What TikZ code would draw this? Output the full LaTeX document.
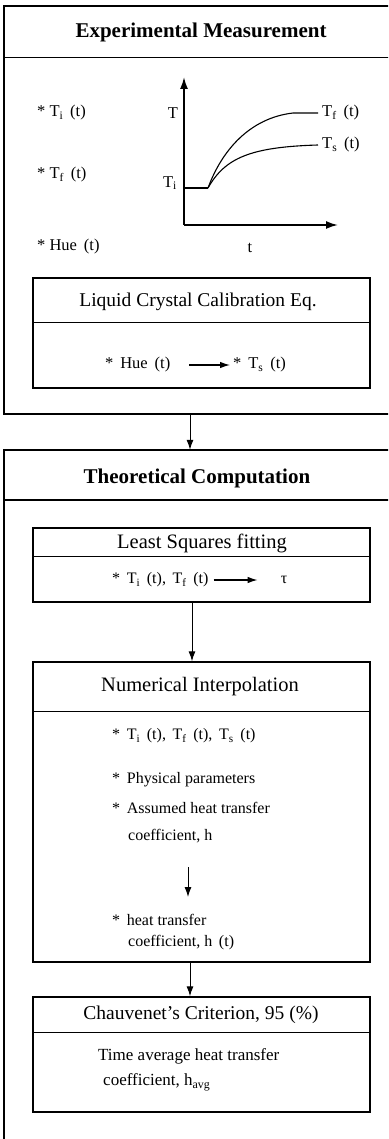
\documentclass[tikz,border=0pt]{standalone}
\usepackage{fontspec}
\setmainfont{Liberation Serif}
\usetikzlibrary{arrows.meta}
\begin{document}
\begin{tikzpicture}[x=1pt,y=-1pt,
  outerbox/.style={inner sep=0pt},
  outerline/.style={line width=1.8pt},
  innerbox/.style={draw, line width=1.4pt, inner sep=0pt},
  divline/.style={line width=1.1pt},
  flow/.style={line width=1pt, -{Latex[length=10pt,width=7pt]}},
  rowarrow/.style={line width=1.2pt, -{Latex[length=10pt,width=6.5pt]}},
  axis/.style={line width=1.8pt, -{Latex[length=12pt,width=8pt]}},
  curve/.style={line width=1.1pt},
  ttl/.style={inner sep=0pt, font=\fontsize{21}{25}\selectfont\bfseries},
  hdr/.style={inner sep=0pt, font=\fontsize{19.5}{23}\selectfont},
  hdrb/.style={inner sep=0pt, font=\fontsize{20.5}{24}\selectfont},
  glab/.style={inner sep=0pt, font=\fontsize{16.5}{19}\selectfont},
  item/.style={inner sep=0pt, anchor=west, font=\fontsize{16}{19}\selectfont},
  titem/.style={inner sep=0pt, anchor=west, font=\fontsize{17}{20}\selectfont}
]
\useasboundingbox (0,0) rectangle (388,1139);
\clip (0,0) rectangle (388,1139);

% ---------- outer box 1 (its right side lies beyond the picture) ----------
\node[outerbox, minimum width=400pt, minimum height=408pt] (outer1) at (204,210) {};
\draw[outerline] (outer1.north east) -- (outer1.north west) -- (outer1.south west) -- (outer1.south east);
\draw[divline, line width=1.4pt] ([yshift=-52pt]outer1.north west) -- ([yshift=-52pt]outer1.north east);
\node[ttl] (title1) at (201,32) {Experimental Measurement};

\node[glab, anchor=west] (gTi) at (37,113) {* T\textsubscript{i}\, (t)};
\node[glab, anchor=west] (gTf) at (37,175) {* T\textsubscript{f}\, (t)};
\node[glab, anchor=west] (gHue) at (37,247) {* Hue\, (t)};

% graph
\coordinate (O) at (184,225);
\coordinate (ytop) at (184,77);
\coordinate (xend) at (338,225);
\coordinate (Ti0) at (184,188);
\coordinate (knee) at (208,188);
\draw[axis] (O) -- (ytop);
\draw[axis] (O) -- (xend);
\draw[curve] (Ti0) -- (knee);
\draw[curve] (knee) .. controls (222,150) and (250,118) .. (293,113) -- (318,113);
\draw[curve] (knee) .. controls (225,158) and (250,147) .. (318,145);
\node[glab] (lT) at (173,113) {T};
\node[glab] (lTi) at (170,183) {T\textsubscript{i}};
\node[glab, anchor=west] (lTf) at (322,113) {T\textsubscript{f}\, (t)};
\node[glab, anchor=west] (lTs) at (322,145) {T\textsubscript{s}\, (t)};
\node[glab] (lt) at (250,248) {t};

% LC calibration box
\node[innerbox, minimum width=337pt, minimum height=110pt] (lc) at (201.5,333) {};
\draw[divline] ([yshift=-45pt]lc.north west) -- ([yshift=-45pt]lc.north east);
\node[hdr] (lctitle) at (198,302) {Liquid Crystal Calibration Eq.};
\node[glab, anchor=west] (hue) at (105,365) {*\, Hue\, (t)};
\node[glab, anchor=west] (ts) at (233,365) {*\, T\textsubscript{s}\, (t)};
\draw[rowarrow, shorten <=19pt, shorten >=3pt] (hue.east) -- (ts.west);

% ---------- outer box 2 (right side and bottom beyond the picture) ----------
\node[outerbox, minimum width=400pt, minimum height=691pt] (outer2) at (204,795.5) {};
\draw[outerline] (outer2.north east) -- (outer2.north west) -- (outer2.south west) -- (outer2.south east);
\draw[divline, line width=1.4pt] ([yshift=-50pt]outer2.north west) -- ([yshift=-50pt]outer2.north east);
\node[ttl] (title2) at (197,478) {Theoretical Computation};

\coordinate (a1x) at (190,0);
\draw[flow] (outer1.south -| a1x) -- (outer2.north -| a1x);

% least squares box
\node[innerbox, minimum width=337pt, minimum height=74pt] (ls) at (201.5,565) {};
\draw[divline] ([yshift=-29pt]ls.north west) -- ([yshift=-29pt]ls.north east);
\node[hdrb] (lstitle) at (202,543) {Least Squares fitting};
\node[item] (lsrow) at (112,580) {*\, T\textsubscript{i}\, (t),\, T\textsubscript{f}\, (t)};
\node[item, anchor=center] (tau) at (284,580) {τ};
\draw[rowarrow, shorten <=5pt, shorten >=23pt] (lsrow.east) -- (tau.west);

% numerical interpolation box
\node[innerbox, minimum width=337pt, minimum height=300pt] (ni) at (201.5,812) {};
\draw[divline] ([yshift=-50pt]ni.north west) -- ([yshift=-50pt]ni.north east);
\node[hdrb] (nititle) at (200,687) {Numerical Interpolation};
\coordinate (a2x) at (192,0);
\draw[flow] (ls.south -| a2x) -- (ni.north -| a2x);

\node[item] (r1) at (112,736) {*\, T\textsubscript{i}\, (t),\, T\textsubscript{f}\, (t),\, T\textsubscript{s}\, (t)};
\node[item] (r2) at (112,780) {*\, Physical parameters};
\node[item] (r3) at (112,808) {*\, Assumed heat transfer};
\node[item] (r4) at (128,836) {coefficient, h};
\node[item] (r5) at (112,920) {*\, heat transfer};
\node[item] (r6) at (128,943) {coefficient, h\, (t)};
\coordinate (na1) at (188,867);
\coordinate (na2) at (188,897);
\draw[flow] (na1) -- (na2);

% Chauvenet box
\node[innerbox, minimum width=337pt, minimum height=115pt] (ch) at (201.5,1054.5) {};
\draw[divline] ([yshift=-36pt]ch.north west) -- ([yshift=-36pt]ch.north east);
\node[hdr] (chtitle) at (201,1015) {Chauvenet's Criterion, 95 (\%)};
\coordinate (a3x) at (190,0);
\draw[flow] (ni.south -| a3x) -- (ch.north -| a3x);
\node[titem] (c1) at (98,1056) {Time average heat transfer};
\node[titem] (c2) at (103,1082) {coefficient, h\textsubscript{avg}};
\end{tikzpicture}
\end{document}
